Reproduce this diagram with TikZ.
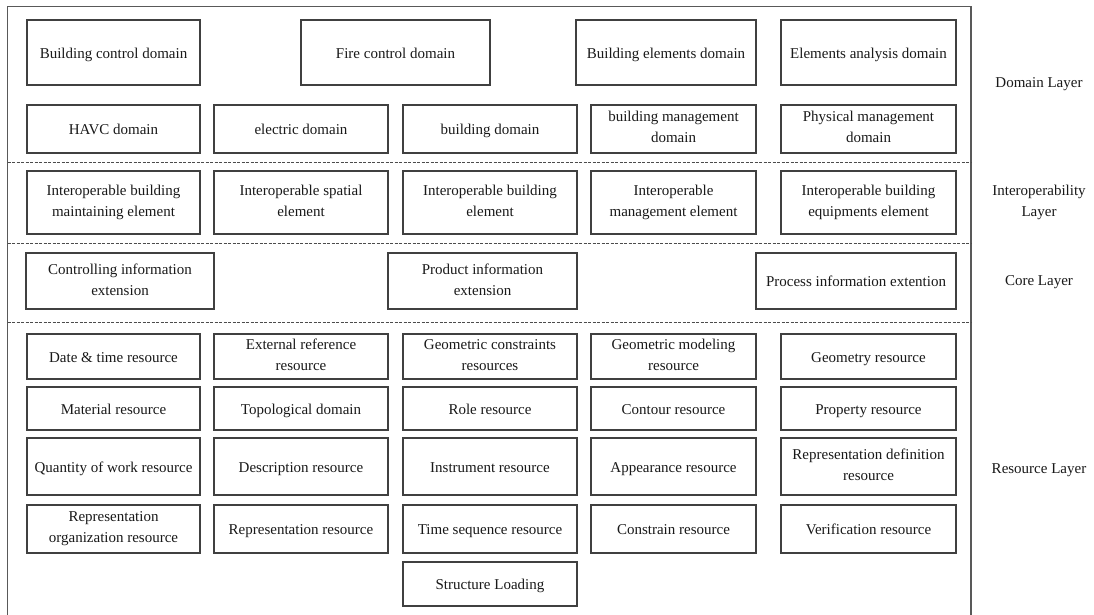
\documentclass[tikz,border=0pt]{standalone}
\usepackage{fontspec}
\setmainfont{Liberation Serif}
\begin{document}
\begin{tikzpicture}[x=1pt,y=-1pt,
  bx/.style={draw=black!75, line width=1.2pt, align=center, inner sep=1pt,
    font=\fontsize{15}{21}\selectfont, text=black!90,
    execute at begin node={\rule{0pt}{14.5pt}},
    execute at end node={\rule[-3.5pt]{0pt}{3.5pt}}},
  lay/.style={align=center, font=\fontsize{15}{21}\selectfont, text=black!90},
  sep/.style={draw=black!70, line width=0.8pt, dash pattern=on 3pt off 1.5pt},
  frm/.style={draw=black!65, line width=1.3pt}]
\useasboundingbox[fill=white] (0,0) rectangle (1094,614);
% frame
\coordinate (fbl) at (7.5,620);
\coordinate (ftl) at (7.5,6.5);
\coordinate (ftr) at (971,6.5);
\coordinate (fbr) at (971,620);
\draw[frm] (fbl) -- (ftl) -- (ftr) -- (fbr);
% separators
\coordinate (s1l) at (7.5,162); \coordinate (s1r) at (971,162);
\coordinate (s2l) at (7.5,243); \coordinate (s2r) at (971,243);
\coordinate (s3l) at (7.5,322); \coordinate (s3r) at (971,322);
\draw[sep] (s1l) -- (s1r);
\draw[sep] (s2l) -- (s2r);
\draw[sep] (s3l) -- (s3r);
% Domain layer row 1
\node[bx, minimum width=173pt, minimum height=65pt] (d11) at (113.5,52.5) {Building control domain};
\node[bx, minimum width=189pt, minimum height=65pt] (d12) at (395.5,52.5) {Fire control domain};
\node[bx, minimum width=180pt, minimum height=65pt] (d13) at (666,52.5) {Building elements domain};
\node[bx, minimum width=175pt, minimum height=65pt] (d14) at (868.5,52.5) {Elements analysis domain};
% Domain layer row 2
\node[bx, minimum width=173pt, minimum height=48pt] (d21) at (113.5,129) {HAVC domain};
\node[bx, minimum width=174pt, minimum height=48pt] (d22) at (301,129) {electric domain};
\node[bx, minimum width=174pt, minimum height=48pt] (d23) at (490,129) {building domain};
\node[bx, minimum width=165pt, minimum height=48pt] (d24) at (673.5,129) {building management\\domain};
\node[bx, minimum width=175pt, minimum height=48pt] (d25) at (868.5,129) {Physical management\\domain};
% Interoperability layer
\node[bx, minimum width=173pt, minimum height=63pt] (i1) at (113.5,202.5) {Interoperable building\\maintaining element};
\node[bx, minimum width=174pt, minimum height=63pt] (i2) at (301,202.5) {Interoperable spatial\\element};
\node[bx, minimum width=174pt, minimum height=63pt] (i3) at (490,202.5) {Interoperable building\\element};
\node[bx, minimum width=165pt, minimum height=63pt] (i4) at (673.5,202.5) {Interoperable\\management element};
\node[bx, minimum width=175pt, minimum height=63pt] (i5) at (868.5,202.5) {Interoperable building\\equipments element};
% Core layer
\node[bx, minimum width=188pt, minimum height=56pt] (c1) at (120,281) {Controlling information\\extension};
\node[bx, minimum width=189pt, minimum height=56pt] (c2) at (482.5,281) {Product information\\extension};
\node[bx, minimum width=200pt, minimum height=56pt] (c3) at (856,281) {Process information extention};
% Resource layer row 1
\node[bx, minimum width=173pt, minimum height=45pt] (r11) at (113.5,356.5) {Date \& time resource};
\node[bx, minimum width=174pt, minimum height=45pt] (r12) at (301,356.5) {External reference\\resource};
\node[bx, minimum width=174pt, minimum height=45pt] (r13) at (490,356.5) {Geometric constraints\\resources};
\node[bx, minimum width=165pt, minimum height=45pt] (r14) at (673.5,356.5) {Geometric modeling\\resource};
\node[bx, minimum width=175pt, minimum height=45pt] (r15) at (868.5,356.5) {Geometry resource};
% row 2
\node[bx, minimum width=173pt, minimum height=43pt] (r21) at (113.5,408.5) {Material resource};
\node[bx, minimum width=174pt, minimum height=43pt] (r22) at (301,408.5) {Topological domain};
\node[bx, minimum width=174pt, minimum height=43pt] (r23) at (490,408.5) {Role resource};
\node[bx, minimum width=165pt, minimum height=43pt] (r24) at (673.5,408.5) {Contour resource};
\node[bx, minimum width=175pt, minimum height=43pt] (r25) at (868.5,408.5) {Property resource};
% row 3
\node[bx, minimum width=173pt, minimum height=57pt] (r31) at (113.5,466.5) {Quantity of work resource};
\node[bx, minimum width=174pt, minimum height=57pt] (r32) at (301,466.5) {Description resource};
\node[bx, minimum width=174pt, minimum height=57pt] (r33) at (490,466.5) {Instrument resource};
\node[bx, minimum width=165pt, minimum height=57pt] (r34) at (673.5,466.5) {Appearance resource};
\node[bx, minimum width=175pt, minimum height=57pt] (r35) at (868.5,466.5) {Representation definition\\resource};
% row 4
\node[bx, minimum width=173pt, minimum height=48pt] (r41) at (113.5,529) {Representation\\organization resource};
\node[bx, minimum width=174pt, minimum height=48pt] (r42) at (301,529) {Representation resource};
\node[bx, minimum width=174pt, minimum height=48pt] (r43) at (490,529) {Time sequence resource};
\node[bx, minimum width=165pt, minimum height=48pt] (r44) at (673.5,529) {Constrain resource};
\node[bx, minimum width=175pt, minimum height=48pt] (r45) at (868.5,529) {Verification resource};
% row 5
\node[bx, minimum width=174pt, minimum height=44pt] (r53) at (490,584) {Structure Loading};
% layer labels
\node[lay] (ldom) at (1039,84) {Domain Layer};
\node[lay] (lint) at (1039,202.5) {Interoperability\\Layer};
\node[lay] (lcore) at (1039,282) {Core Layer};
\node[lay] (lres) at (1039,470) {Resource Layer};
\end{tikzpicture}
\end{document}
